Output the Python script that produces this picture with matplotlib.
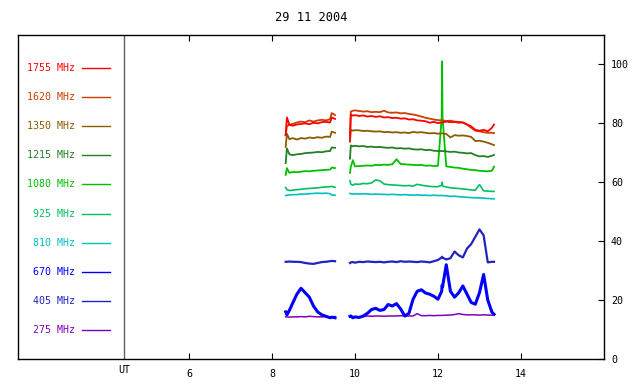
import numpy as np
import matplotlib
matplotlib.use("Agg")
import matplotlib.pyplot as plt

################ DATA

title = "29 11 2004"
freqs = ["1755 MHz", "1620 MHz", "1350 MHz", "1215 MHz", "1080 MHz",
         "925 MHz", "810 MHz", "670 MHz", "405 MHz", "275 MHz"]
colors = ["#ff0000", "#c84000", "#8a5c00", "#228022", "#00c000",
          "#00c060", "#00c0c0", "#0000ff", "#2222c0", "#8000c0"]

# first block of observation (UT hours)
t1 = [8.33, 8.36, 8.42, 8.5, 8.6, 8.7, 8.8, 8.9, 9.0, 9.1, 9.2, 9.3, 9.4, 9.44, 9.52]
# second block
t2 = [9.88, 9.9, 9.95, 10.0, 10.1, 10.2, 10.3, 10.4, 10.5, 10.6, 10.7, 10.8, 10.9,
      11.0, 11.1, 11.2, 11.3, 11.4, 11.5, 11.6, 11.7, 11.8, 11.9, 12.0, 12.09, 12.1,
      12.11, 12.2, 12.3, 12.4, 12.5, 12.6, 12.7, 12.8, 12.9, 13.0, 13.1, 13.2, 13.3, 13.35]

f1755_a = [76, 82, 79.5, 79.2, 79.6, 79.8, 80, 79.7, 80.2, 80, 80.4, 80.5, 80.3, 82, 81.5]
f1755_b = [74, 83, 82.6, 82.8, 82.5, 82.7, 82.3, 82.5, 82.2, 82.4, 82, 82.1, 81.8,
           81.9, 81.6, 81.7, 81.3, 81.4, 81, 80.9, 80.7, 80.2, 80.5, 80.1, 80.3, 80.3,
           80.3, 80.6, 80.4, 80.5, 80.2, 80.3, 79.6, 79, 77.8, 77.5, 77.8, 77.3, 78.5, 79.6]

f1620_a = [76, 79, 79.5, 79.8, 80.3, 80.6, 80.4, 81, 80.6, 81, 81.2, 81, 81.4, 83.5, 82.8]
f1620_b = [76, 84, 84.3, 84.4, 84.2, 84, 84.1, 83.8, 83.9, 83.8, 84.3, 83.7, 83.6,
           83.7, 83.4, 83.5, 83.2, 83, 82.7, 82.3, 81.9, 81.6, 81.3, 81.1, 81, 81,
           81, 80.8, 80.9, 80.6, 80.5, 80.3, 79.6, 78.5, 77.5, 77.3, 77, 76.8, 76.8, 76.7]

f1350_a = [72, 76.5, 74.6, 75, 74.5, 75, 74.8, 75.2, 75, 75.3, 75.1, 75.5, 75.4, 77.2, 76.8]
f1350_b = [73.8, 77.8, 77.5, 77.7, 77.6, 77.4, 77.5, 77.3, 77.2, 77.3, 77, 77.1, 76.9,
           77, 76.8, 76.9, 76.7, 77.1, 76.9, 77, 76.8, 76.6, 76.7, 76.5, 76.6, 76.6,
           76.6, 76.4, 75.2, 76, 75.8, 75.9, 75.7, 75.4, 74, 74.1, 73.8, 73.4, 72.9, 72.6]

f1215_a = [66.5, 71.5, 69.5, 69.2, 69.5, 69.6, 69.9, 70, 70.1, 70.3, 70.2, 70.5, 70.6, 71.8, 71.7]
f1215_b = [68, 72.5, 72.2, 72.4, 72.2, 72.3, 72, 72.1, 71.9, 72, 71.8, 71.7, 71.8,
           71.5, 71.6, 71.4, 71.5, 71.2, 71.1, 71.2, 70.9, 71, 70.7, 70.6, 70.6, 70.6,
           70.6, 70.5, 70.3, 70.4, 70.1, 70, 69.8, 69.9, 69.2, 68.8, 68.9, 68.6, 69, 69.3]

f1080_a = [62.5, 64.8, 63.2, 63.5, 63.4, 63.6, 63.8, 63.7, 63.9, 64, 64.1, 64.2, 64.3, 65, 64.8]
f1080_b = [63.2, 65.3, 67.5, 65.4, 65.5, 65.6, 65.7, 65.6, 65.9, 65.8, 66, 65.9, 66.1,
           67.8, 66.2, 66.1, 66, 65.9, 65.8, 65.9, 65.6, 65.7, 65.5, 65.6, 82, 101,
           82, 65.4, 65.2, 65, 64.9, 64.6, 64.4, 64.2, 64.1, 63.9, 63.8, 63.7, 63.9, 65.3]

f925_a = [58.2, 57.5, 57.2, 57.3, 57.5, 57.6, 57.8, 57.9, 58, 58.1, 58.3, 58.4, 58.5, 58.6, 58.3]
f925_b = [60.5, 59.3, 59, 59.4, 59.3, 59.6, 59.5, 59.8, 60.8, 60.5, 59.4, 59.2, 59.1,
          59, 58.9, 58.8, 58.9, 58.7, 59.3, 59, 58.8, 58.6, 58.5, 58.5, 59, 60,
          58.7, 58.4, 58.1, 58, 57.9, 57.7, 57.6, 57.4, 57.3, 59.2, 57.1, 57, 56.9, 56.9]

f810_a = [55.5, 55.6, 55.7, 55.8, 55.8, 56, 56, 56.1, 56.2, 56.3, 56.2, 56.3, 56.1, 55.7, 55.6]
f810_b = [56.2, 56.1, 56, 56.1, 56, 56.1, 56, 55.9, 56, 55.9, 55.9, 55.8, 55.9,
          55.8, 55.7, 55.8, 55.7, 55.6, 55.7, 55.6, 55.6, 55.5, 55.6, 55.5, 55.5, 55.5,
          55.5, 55.4, 55.2, 55.3, 55.1, 55, 54.9, 54.8, 54.7, 54.7, 54.6, 54.5, 54.4, 54.4]

f670_a = [16, 15, 16.5, 19, 22, 24, 22.5, 21, 18, 16, 15, 14.5, 14, 14.2, 14]
f670_b = [14.5, 14.6, 14, 14.3, 14.1, 14.6, 15.5, 16.8, 17.2, 16.5, 16.8, 18.5, 18,
          18.8, 17, 14.6, 15.5, 20.3, 23, 23.5, 22.4, 22, 21.3, 20.3, 23, 25,
          24.5, 32, 23, 21, 22.5, 24.8, 22, 19.2, 18.6, 22.5, 28.7, 20, 15.9, 15.2]

f405_a = [33, 33, 33.1, 33, 33, 32.9, 32.6, 32.4, 32.3, 32.6, 32.9, 33, 33.2, 33.3, 33.2]
f405_b = [32.6, 32.8, 32.9, 32.7, 33, 32.9, 33.1, 33, 32.9, 33, 32.8, 33, 33.1,
          32.9, 33.2, 33, 33.1, 33, 32.9, 33.1, 33, 32.8, 33.2, 33.6, 34.5, 34.7,
          34.4, 33.8, 34.2, 36.5, 35.2, 34.5, 37.5, 39, 41.5, 44, 42, 32.8, 33, 33]

f275_a = [14.3, 14.3, 14.2, 14.3, 14.3, 14.4, 14.3, 14.5, 14.4, 14.3, 14.3, 14.4, 14.3, 14.3, 14.4]
f275_b = [14.2, 14.2, 14.1, 14.2, 14.3, 14.4, 14.6, 14.5, 14.6, 14.6, 14.5, 14.6, 14.6,
          14.6, 14.7, 14.6, 14.6, 14.6, 15.4, 14.7, 14.7, 14.8, 14.7, 14.8, 14.8, 14.8,
          14.8, 14.9, 14.9, 15.1, 15.4, 15.1, 15, 15, 15, 14.9, 15, 14.9, 14.9, 14.9]

series = [(f1755_a, f1755_b), (f1620_a, f1620_b), (f1350_a, f1350_b),
          (f1215_a, f1215_b), (f1080_a, f1080_b), (f925_a, f925_b),
          (f810_a, f810_b), (f670_a, f670_b), (f405_a, f405_b), (f275_a, f275_b)]
widths = [1.3, 1.3, 1.3, 1.3, 1.3, 1.2, 1.2, 2.2, 1.6, 1.1]

################ PLOT

plt.rcParams['font.family'] = 'DejaVu Sans Mono'
plt.rcParams['font.size'] = 7.2

fig = plt.figure(figsize=(6.4, 3.84), dpi=100)
ax = fig.add_axes([0.0281, 0.0651, 0.9156, 0.8438])

# draw low frequencies first so the red stays on top
for i in range(len(series) - 1, -1, -1):
    a, b = series[i]
    ax.plot(t1, a, color=colors[i], lw=widths[i])
    ax.plot(t2, b, color=colors[i], lw=widths[i])

ax.set_xlim(1.88, 16.0)
ax.set_ylim(0, 110)

ut_pos = 4.434
ax.axvline(ut_pos, color="#606060", lw=1)

# legend on the left
for i, name in enumerate(freqs):
    yy = 0.898 - i * 0.0898
    ax.plot([0.109, 0.157], [yy, yy], color=colors[i], lw=1, transform=ax.transAxes)
    ax.text(0.0973, yy, name, color=colors[i], ha="right", va="center",
            transform=ax.transAxes)

ax.set_xticks([6, 8, 10, 12, 14])
ax.tick_params(axis="x", direction="in", length=4, top=True, bottom=True, pad=7)
ax.yaxis.tick_right()
ax.set_yticks([0, 20, 40, 60, 80, 100])
ax.tick_params(axis="y", direction="in", length=4, right=True, left=False, pad=5)
ax.text(ut_pos, -0.02, "UT", transform=ax.get_xaxis_transform(), ha="center", va="top")

for s in ax.spines.values():
    s.set_linewidth(1.0)

ax.set_title(title, pad=10)

fig.savefig("out.png", dpi=100)
